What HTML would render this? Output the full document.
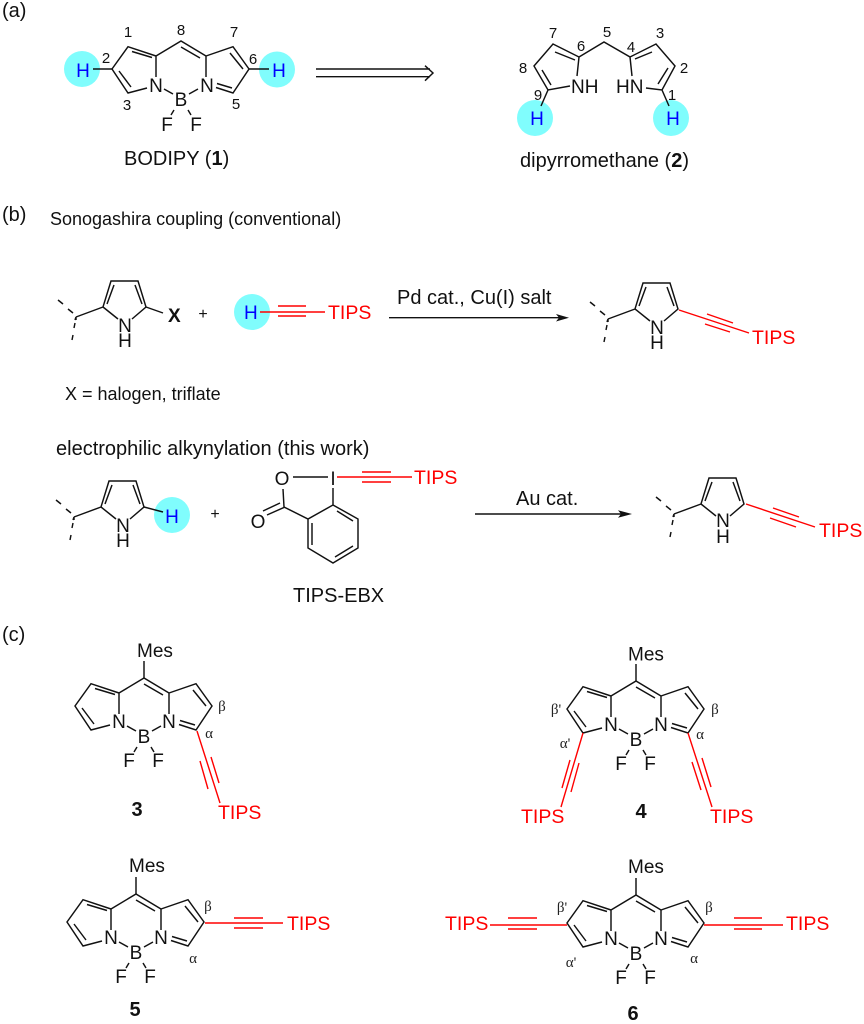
<!DOCTYPE html>
<html><head><meta charset="utf-8"><style>
html,body{margin:0;padding:0;background:#fff}
svg{display:block}
text{font-family:"Liberation Sans",Arial,sans-serif;fill:#111}
.s{font-size:19px}.t{font-size:20px}.n{font-size:15px}.p{font-size:16px}.u{font-size:18px}
.m{text-anchor:middle}
.r{fill:#f00;font-size:19.5px}.h{fill:#00f;font-size:19px}
.g{font-family:"Liberation Serif",serif;font-size:15px;text-anchor:middle;fill:#222}
.b{font-weight:bold}
.l{fill:none;stroke:#111;stroke-width:1.45}
.e{fill:none;stroke:#f00;stroke-width:1.4}
</style></head><body>
<svg width="864" height="1024" viewBox="0 0 864 1024" xmlns="http://www.w3.org/2000/svg">
<defs>
<path id="core" class="l" d="M-25,15L0,0L25,15M0,6L19,17M-25,15L-53,5.7L-69,28L-53,52L-34,47M-49,10.500L-29,16.500M-62,30L-50,46M-25,15V36M-17,48L-8,53M8,53L17,48M-7,69L-10,74M7,69L10,74M25,15V36M25,15L52,5.700L68,28L52,52L35,46.500M49,12L62,28M36,42.500L51,47"/>
<path id="pyr" class="l" d="M-4,23L-3,18M-2,11L-1,6M0,0L-1,3M-18,-17L-13,-13M-8,-8L-3,-4M0,0V3M0,0L27,-10L35,-36H62L70,-10L56,2M27,-10L42,2M31,-13L38,-32M66,-13L59,-32"/>
</defs>

<!-- labels -->
<text class="t" x="2" y="17">(a)</text>
<text class="t" x="2" y="221">(b)</text>
<text class="t" x="2" y="641">(c)</text>
<text class="u" x="50" y="225">Sonogashira coupling (conventional)</text>
<text class="u" x="65" y="400">X = halogen, triflate</text>
<text class="t" x="56" y="455">electrophilic alkynylation (this work)</text>

<!-- cyan circles -->
<g fill="#80fdfd">
<circle cx="82" cy="69" r="18"/><circle cx="277" cy="69.500" r="18"/>
<circle cx="535" cy="118" r="18"/><circle cx="671" cy="118" r="18"/>
<circle cx="252" cy="312" r="18"/><circle cx="172" cy="515" r="18"/>
</g>

<!-- 1 BODIPY -->
<g transform="translate(181,41)">
<use href="#core"/>
<path class="l" d="M-68,28H-88M68,28H88"/>
<text class="s m" x="-25" y="51">N</text><text class="s m" x="26" y="51">N</text><text class="s m" x="0" y="65">B</text><text class="s m" x="-14" y="90">F</text><text class="s m" x="15" y="90">F</text>
</g>
<text class="h m" x="83" y="77">H</text><text class="h m" x="279" y="77">H</text>
<text class="n m" x="128" y="37">1</text><text class="n m" x="181" y="35">8</text><text class="n m" x="234" y="37">7</text><text class="n m" x="106" y="63">2</text><text class="n m" x="253" y="64">6</text><text class="n m" x="127" y="110">3</text><text class="n m" x="236" y="109">5</text>
<text class="t" x="124" y="165">BODIPY (<tspan class="b">1</tspan>)</text>

<!-- retro arrow -->
<path class="l" d="M316,69H430M316,76.700H430M425,65.700L433,73L425,80.700"/>

<!-- 2 dipyrromethane -->
<path class="l" d="M577,76L579,57L553,44L534,66L548,90L570,86M555,52L575,60M542,70L551,85M579,57L604,42L630,57L632,76M630,57L656,44L675,66L662,90L646,88M652,52L635,59M668,68L658,84M548,90L541,106M662,90L669,106"/>
<text class="s" x="571" y="93">NH</text><text class="s" x="616" y="93">HN</text>
<text class="h m" x="537" y="125">H</text><text class="h m" x="673" y="125">H</text>
<text class="n m" x="553" y="38">7</text><text class="n m" x="607" y="37">5</text><text class="n m" x="660" y="38">3</text><text class="n m" x="581" y="51">6</text><text class="n m" x="631" y="52">4</text><text class="n m" x="523" y="73">8</text><text class="n m" x="684" y="73">2</text><text class="n m" x="538" y="100">9</text><text class="n m" x="672" y="100">1</text>
<text class="t" x="520" y="167">dipyrromethane (<tspan class="b">2</tspan>)</text>

<!-- b row 1 -->
<use href="#pyr" x="76" y="317"/>
<path class="l" d="M146,307L163,313"/>
<text class="s m" x="125" y="332">N</text><text class="s m" x="125" y="347">H</text>
<text class="s b" x="168" y="322">X</text>
<text class="p m" x="203" y="319">+</text>
<text class="h" x="244" y="319">H</text>
<path class="e" d="M260,312H325M278,306H306M278,316H306"/>
<text class="r" x="328" y="319">TIPS</text>
<text class="t" x="397" y="304">Pd cat., Cu(I) salt</text>
<path class="l" d="M389,317.700H560"/>
<path d="M556,314L569,317.700L556,321.500L559,317.700Z" fill="#111"/>
<use href="#pyr" x="608" y="319"/>
<text class="s m" x="657" y="334">N</text><text class="s m" x="657" y="349">H</text>
<path class="e" d="M679,310L749,333M707,314L733,323M705,324L730,332"/>
<text class="r" x="752" y="344">TIPS</text>

<!-- b row 2 -->
<use href="#pyr" x="74" y="517"/>
<path class="l" d="M144,507L163,512"/>
<text class="s m" x="123" y="532">N</text><text class="s m" x="123" y="547">H</text>
<text class="h m" x="172" y="523">H</text>
<text class="p m" x="215" y="519">+</text>
<path class="l" d="M293,477H328M283,489L284,507L308,519L333,505V488M333,505L358,519V548L333,563L308,548V519M312,523V545M337,511L353,521M353,546L335,557M267,515L285,507M263,511L280,503"/>
<text class="s m" x="282" y="485">O</text><text class="s m" x="333" y="485">I</text><text class="s m" x="258" y="528">O</text>
<path class="e" d="M337,477H412M362,472H391M362,482H391"/>
<text class="r" x="414" y="484">TIPS</text>
<text class="t" x="293" y="602">TIPS-EBX</text>
<text class="t" x="516" y="505">Au cat.</text>
<path class="l" d="M475,514H622"/>
<path d="M618,510.300L632,514L618,517.800L621,514Z" fill="#111"/>
<use href="#pyr" x="674" y="514"/>
<text class="s m" x="723" y="527">N</text><text class="s m" x="723" y="543">H</text>
<path class="e" d="M746,504L815,527M773,508L799,517M770,518L796,527"/>
<text class="r" x="819" y="537">TIPS</text>

<!-- 3 -->
<g transform="translate(144,678)"><use href="#core"/><path class="l" d="M0,0V-17"/>
<text class="s m" x="-25" y="50">N</text><text class="s m" x="25" y="50">N</text><text class="s m" x="0" y="65">B</text><text class="s m" x="-15" y="89">F</text><text class="s m" x="14" y="89">F</text></g>
<text class="s" x="137" y="657">Mes</text>
<path class="e" d="M197,731L220,803M200,761L208,789M211,757L219,783"/>
<text class="r" x="218" y="819">TIPS</text>
<text class="g" x="222" y="711">β</text><text class="g" x="209" y="738">α</text>
<text class="t b m" x="137" y="816">3</text>

<!-- 4 -->
<g transform="translate(636,681)"><use href="#core"/><path class="l" d="M0,0V-17"/>
<text class="s m" x="-25" y="50">N</text><text class="s m" x="25" y="50">N</text><text class="s m" x="0" y="65">B</text><text class="s m" x="-15" y="89">F</text><text class="s m" x="14" y="89">F</text></g>
<text class="s" x="628" y="660.500">Mes</text>
<path class="e" d="M688,733L712,807M692,762L701,790M702,758L711,787M583,733L561,807M570,760L562,788M579,763L571,792"/>
<text class="r" x="710" y="823">TIPS</text><text class="r" x="521" y="823">TIPS</text>
<text class="g" x="556" y="714">β'</text><text class="g" x="715" y="714">β</text><text class="g" x="565" y="748">α'</text><text class="g" x="700" y="739">α</text>
<text class="t b m" x="641" y="818">4</text>

<!-- 5 -->
<g transform="translate(136,894)"><use href="#core"/><path class="l" d="M0,0V-17"/>
<text class="s m" x="-25" y="50">N</text><text class="s m" x="25" y="50">N</text><text class="s m" x="0" y="65">B</text><text class="s m" x="-15" y="89">F</text><text class="s m" x="14" y="89">F</text></g>
<text class="s" x="129" y="872">Mes</text>
<path class="e" d="M205,923H283M234,918H263M234,928H263"/>
<text class="r" x="287" y="930">TIPS</text>
<text class="g" x="208" y="911">β</text><text class="g" x="193" y="963">α</text>
<text class="t b m" x="135" y="1016">5</text>

<!-- 6 -->
<g transform="translate(636,895)"><use href="#core"/><path class="l" d="M0,0V-17"/>
<text class="s m" x="-25" y="50">N</text><text class="s m" x="25" y="50">N</text><text class="s m" x="0" y="65">B</text><text class="s m" x="-15" y="89">F</text><text class="s m" x="14" y="89">F</text></g>
<text class="s" x="628" y="873">Mes</text>
<path class="e" d="M704,925H783M734,918H762M734,929H762M567,925H490M508,918H537M508,929H537"/>
<text class="r" x="786" y="930">TIPS</text><text class="r" x="445" y="930">TIPS</text>
<text class="g" x="562" y="912">β'</text><text class="g" x="709" y="912">β</text><text class="g" x="571" y="967">α'</text><text class="g" x="694" y="963">α</text>
<text class="t b m" x="633" y="1020">6</text>
</svg>
</body></html>
